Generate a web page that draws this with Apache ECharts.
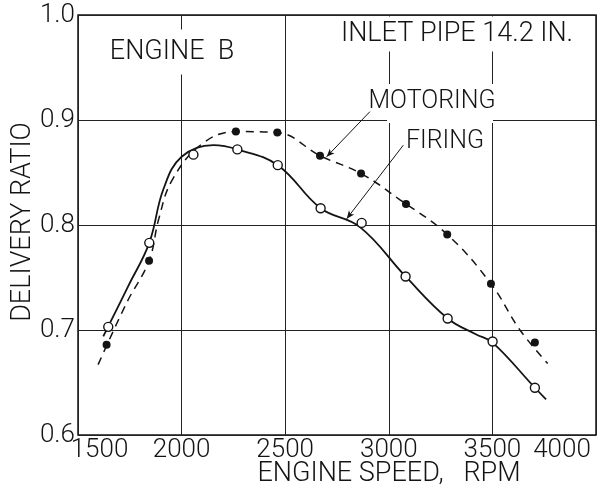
<!DOCTYPE html>
<html>
<head>
<meta charset="utf-8">
<script src="https://cdn.jsdelivr.net/npm/echarts@6/dist/echarts.min.js"></script>
<style>
  html, body { margin: 0; padding: 0; background: #fff; }
  #chart { width: 616px; height: 492px; }
</style>
</head>
<body>
<div id="chart"></div>
<script>
// axis ticks
const rpmTicks = [1500, 2000, 2500, 3000, 3500, 4000]
const ratioTicks = [0.6, 0.7, 0.8, 0.9, 1.0]

// measured points, firing (open circles)
const firingRpm = [1646, 1844, 2057, 2269, 2464, 2671, 2869, 3081, 3284, 3501, 3705]
const firingRatio = [0.703, 0.783, 0.867, 0.872, 0.857, 0.816, 0.802, 0.751, 0.711, 0.689, 0.645]

// measured points, motoring (filled dots)
const motoringRpm = [1638, 1843, 2262, 2462, 2668, 2866, 3083, 3282, 3493, 3705]
const motoringRatio = [0.686, 0.766, 0.889, 0.888, 0.866, 0.849, 0.820, 0.791, 0.744, 0.688]

// faired curves
const firingCurveRpm = [1622, 1743, 1844, 1912, 2000, 2153, 2269, 2464, 2671, 2861, 3081, 3284, 3420, 3501, 3705, 3759]
const firingCurveRatio = [0.694, 0.742, 0.783, 0.834, 0.865, 0.876, 0.872, 0.857, 0.816, 0.798, 0.751, 0.711, 0.696, 0.688, 0.645, 0.634]

const motoringCurveRpm = [1597, 1735, 1843, 1890, 1955, 2097, 2262, 2462, 2668, 2866, 3054, 3282, 3493, 3633, 3767]
const motoringCurveRatio = [0.667, 0.726, 0.766, 0.806, 0.843, 0.877, 0.889, 0.888, 0.866, 0.849, 0.824, 0.791, 0.744, 0.700, 0.668]

// leader lines for the two curve labels [from, to]
const motoringLeader = [[2909, 0.908], [2700, 0.865]]
const firingLeader = [[3070, 0.876], [2797, 0.806]]

const pairs = (xs, ys) => xs.map((x, i) => [x, ys[i]])

const FONT = 'Roboto, "DejaVu Sans", sans-serif'
const INK = '#141414'

const chart = echarts.init(document.getElementById('chart'))

function label(text, x, y, size) {
    return {
        type: 'text',
        x: x,
        y: y,
        z: 100,
        style: {
            text: text,
            fill: INK,
            font: '300 ' + size + 'px ' + FONT,
            align: 'center',
            verticalAlign: 'middle'
        }
    }
}

const engineB = label('ENGINE  B', 172, 52, 27)
engineB.style.backgroundColor = '#fff'
engineB.style.padding = [9, 6]

const inlet = label('INLET PIPE 14.2 IN.', 457, 34, 27)
inlet.style.backgroundColor = '#fff'
inlet.style.padding = [0, 5, 8, 5]

const yTitle = label('DELIVERY RATIO', 23, 222, 27)
yTitle.rotation = Math.PI / 2

const option = {
    backgroundColor: '#fff',
    animation: false,
    grid: {
        left: 78,
        right: 20,
        top: 15,
        bottom: 57,
        show: true,
        borderColor: INK,
        borderWidth: 1.5
    },
    xAxis: {
        type: 'value',
        min: rpmTicks[0],
        max: rpmTicks[rpmTicks.length - 1],
        interval: 500,
        axisLine: { show: false },
        axisTick: { show: false },
        splitLine: { lineStyle: { color: '#222', width: 1 } },
        axisLabel: {
            color: INK,
            fontFamily: FONT,
            fontWeight: 300,
            fontSize: 26,
            margin: 2,
            formatter: v => {
                if (v === rpmTicks[0]) return '{l|' + v + '}'
                if (v === rpmTicks[rpmTicks.length - 1]) return '{r|' + v + '}'
                return String(v)
            },
            rich: {
                l: { fontFamily: FONT, fontWeight: 300, fontSize: 26, color: INK, padding: [0, 0, 0, 43] },
                r: { fontFamily: FONT, fontWeight: 300, fontSize: 26, color: INK, padding: [0, 68, 0, 0] }
            }
        }
    },
    yAxis: {
        type: 'value',
        min: ratioTicks[0],
        max: ratioTicks[ratioTicks.length - 1],
        interval: 0.1,
        axisLine: { show: false },
        axisTick: { show: false },
        splitLine: { lineStyle: { color: '#222', width: 1 } },
        axisLabel: {
            color: INK,
            fontFamily: FONT,
            fontWeight: 300,
            fontSize: 26,
            margin: 3,
            formatter: v => v.toFixed(1)
        }
    },
    graphic: [
        engineB,
        inlet,
        // clears the grid behind the MOTORING label
        { type: 'rect', z: 99, shape: { x: 387, y: 84, width: 106, height: 39 }, style: { fill: '#fff' } },
        label('MOTORING', 432, 102, 25),
        label('FIRING', 445, 142, 25),
        yTitle,
        label('ENGINE SPEED,   RPM', 389, 474, 27)
    ],
    series: [
        {
            name: 'firing curve',
            type: 'line',
            data: pairs(firingCurveRpm, firingCurveRatio),
            smooth: 0.4,
            showSymbol: false,
            lineStyle: { color: INK, width: 1.8 },
            silent: true,
            z: 3,
            markLine: {
                silent: true,
                symbol: ['none', 'arrow'],
                symbolSize: [5, 8],
                label: { show: false },
                lineStyle: { color: INK, width: 1, type: 'solid' },
                data: [
                    [{ coord: motoringLeader[0] }, { coord: motoringLeader[1] }],
                    [{ coord: firingLeader[0] }, { coord: firingLeader[1] }]
                ]
            }
        },
        {
            name: 'motoring curve',
            type: 'line',
            data: pairs(motoringCurveRpm, motoringCurveRatio),
            smooth: 0.4,
            showSymbol: false,
            lineStyle: { color: INK, width: 1.5, type: [8, 6] },
            silent: true,
            z: 3
        },
        {
            name: 'FIRING',
            type: 'scatter',
            data: pairs(firingRpm, firingRatio),
            symbol: 'circle',
            symbolSize: 9,
            itemStyle: { color: '#fff', borderColor: INK, borderWidth: 1.4, opacity: 1 },
            z: 4
        },
        {
            name: 'MOTORING',
            type: 'scatter',
            data: pairs(motoringRpm, motoringRatio),
            symbol: 'circle',
            symbolSize: 8,
            itemStyle: { color: INK, opacity: 1 },
            z: 4
        }
    ]
}

chart.setOption(option)
</script>
</body>
</html>
